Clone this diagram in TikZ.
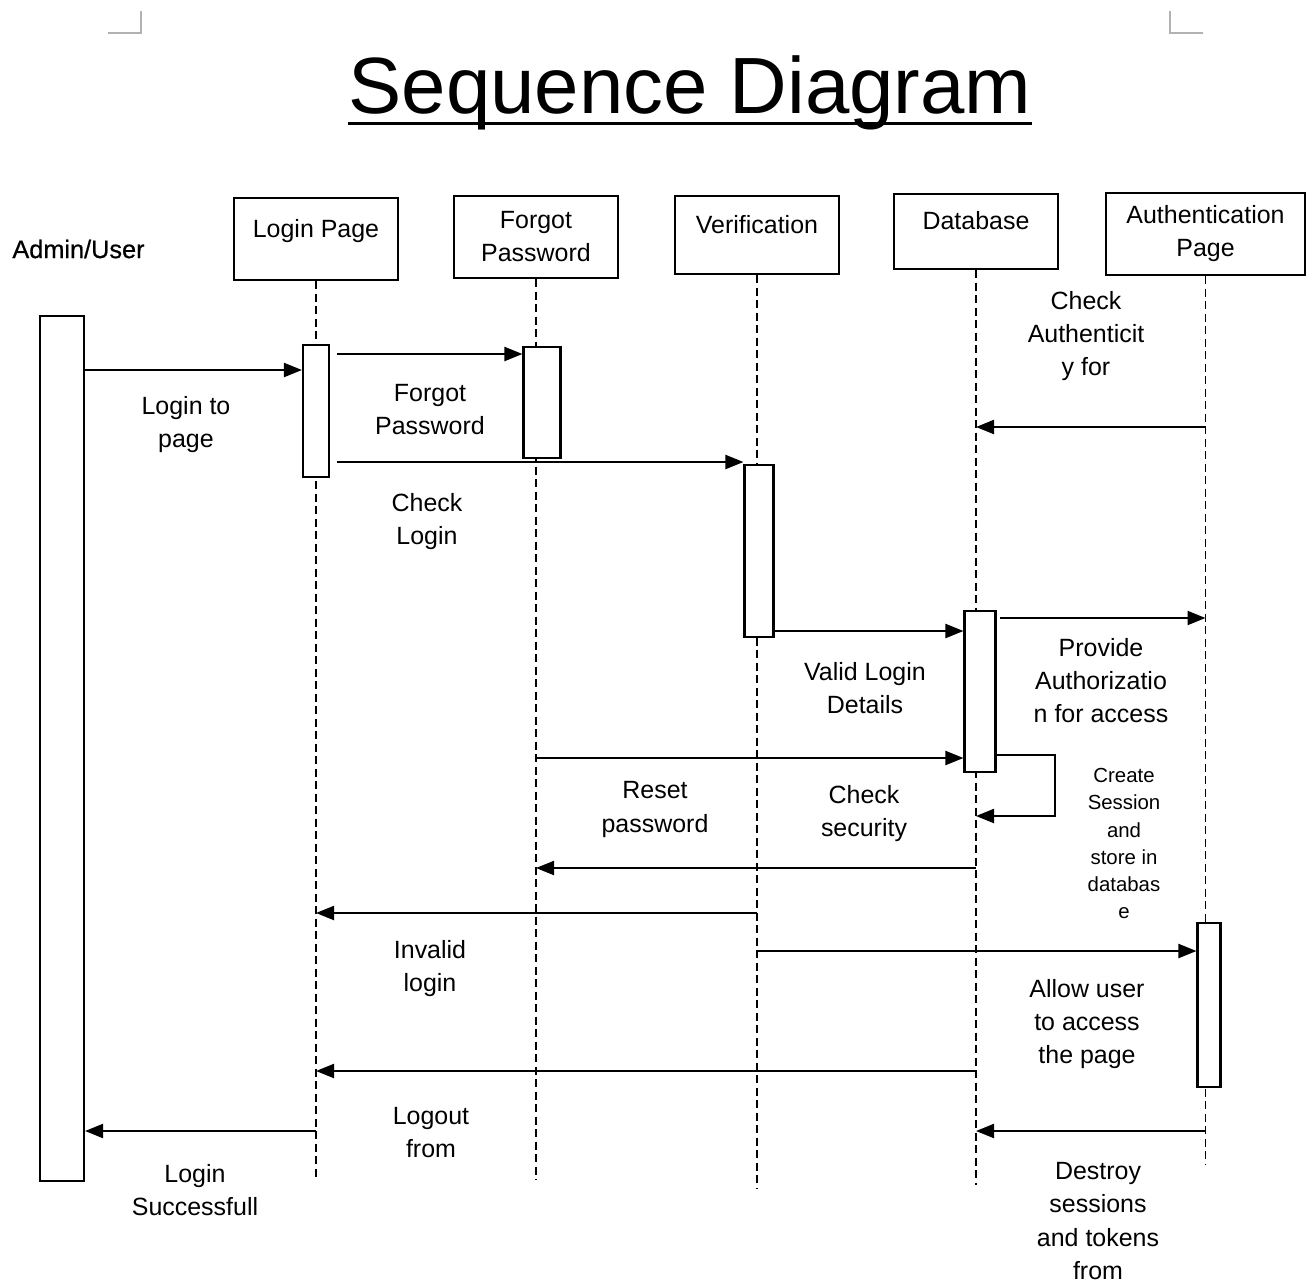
\documentclass[tikz,border=0pt]{standalone}
\usepackage{fontspec}
\setmainfont{Liberation Sans}
\newfontfamily\medfont[FakeBold=0.6]{Liberation Sans}
\usetikzlibrary{arrows.meta}

\tikzset{
  head/.style={draw, line width=0.6pt, inner sep=0pt, align=center,
               font=\fontsize{7.1}{9.4}\selectfont},
  oneline/.style={text depth=0.22cm},
  bar/.style={draw, line width=0.6pt, fill=white, inner sep=0pt, minimum width=#1},
  life/.style={dash pattern=on 0.08cm off 0.045cm, line width=0.45pt},
  msg/.style={line width=0.6pt, -{Triangle[length=0.18cm,width=0.14cm]}},
  lbl/.style={align=center, font=\fontsize{7.1}{9.4}\selectfont},
  small/.style={align=center, font=\fontsize{5.8}{7.7}\selectfont},
}

\begin{document}
\begin{tikzpicture}
  \useasboundingbox (0,0) rectangle (13.13,-12.84);
  \draw[gray!60, line width=0.4pt] (1.08,-0.33) -- (1.41,-0.33) -- (1.41,-0.11);
  \draw[gray!60, line width=0.4pt] (12.03,-0.33) -- (11.70,-0.33) -- (11.70,-0.11);

  \node[inner sep=0pt, font=\fontsize{22.7}{27}\selectfont] (title) at (6.90,-0.93) {Sequence Diagram};
  \draw[line width=0.03cm] ([yshift=0.07cm]title.south west) -- ([yshift=0.07cm]title.south east);

  \node[lbl, font=\medfont\fontsize{7.2}{9.4}\selectfont] (user) at (0.785,-2.49) {Admin/User};
  \node[head, oneline, minimum width=1.64cm, minimum height=0.82cm] (lp) at (3.16,-2.39) {Login Page};
  \node[head, minimum width=1.64cm, minimum height=0.82cm] (fp) at (5.36,-2.37) {Forgot\\Password};
  \node[head, oneline, minimum width=1.64cm, minimum height=0.78cm] (ve) at (7.57,-2.35) {Verification};
  \node[head, oneline, minimum width=1.64cm, minimum height=0.75cm] (db) at (9.76,-2.315) {Database};
  \node[head, minimum width=1.99cm, minimum height=0.82cm] (ap) at (12.055,-2.34) {Authentication\\Page};

  \foreach \n/\b in {lp/-11.78, fp/-11.80, ve/-11.88, db/-11.85, ap/-11.65}
    \draw[life] (\n.south) -- (\n.south |- 0,\b);

  \node[bar=0.44cm, minimum height=8.65cm] (ab) at (0.62,-7.485) {};
  \node[bar=0.26cm, minimum height=1.32cm] (lpb) at (3.16,-4.11) {};
  \node[bar=0.37cm, minimum height=1.11cm] (fpb) at (5.42,-4.025) {};
  \node[bar=0.29cm, minimum height=1.72cm] (veb) at (7.59,-5.51) {};
  \node[bar=0.31cm, minimum height=1.61cm] (dbb) at (9.80,-6.915) {};
  \node[bar=0.23cm, minimum height=1.64cm] (apb) at (12.09,-10.05) {};

  \draw[msg] (ab.east |- 0,-3.70) -- (lpb.west |- 0,-3.70);
  \draw[msg, shorten <=0.07cm] (lpb.east |- 0,-3.54) -- (fpb.west |- 0,-3.54);
  \draw[msg, shorten <=0.07cm] (lpb.east |- 0,-4.62) -- (veb.west |- 0,-4.62);
  \draw[msg] (veb.east |- 0,-6.31) -- (dbb.west |- 0,-6.31);
  \draw[msg, shorten <=0.03cm] (dbb.east |- 0,-6.18) -- (ap.south |- 0,-6.18);
  \draw[msg] (ap.south |- 0,-4.27) -- (db.south |- 0,-4.27);
  \draw[msg] (fp.south |- 0,-7.58) -- (dbb.west |- 0,-7.58);
  \coordinate (loop) at (10.55,-7.55);
  \draw[msg] (dbb.east |- loop) -- (loop) -- (loop |- 0,-8.16) -- (db.south |- 0,-8.16);
  \draw[msg] (db.south |- 0,-8.68) -- (fp.south |- 0,-8.68);
  \draw[msg] (ve.south |- 0,-9.13) -- (lp.south |- 0,-9.13);
  \draw[msg] (ve.south |- 0,-9.51) -- (apb.west |- 0,-9.51);
  \draw[msg] (db.south |- 0,-10.71) -- (lp.south |- 0,-10.71);
  \draw[msg] (lp.south |- 0,-11.31) -- (ab.east |- 0,-11.31);
  \draw[msg] (ap.south |- 0,-11.31) -- (db.south |- 0,-11.31);

  \node[lbl] (l1) at (1.86,-4.245) {Login to\\page};
  \node[lbl] (l2) at (4.30,-4.095) {Forgot\\Password};
  \node[lbl] (l3) at (4.27,-5.215) {Check\\Login};
  \node[lbl] (l4) at (8.65,-6.885) {Valid Login\\Details};
  \node[lbl] (l5) at (11.01,-6.805) {Provide\\Authorizatio\\n for access};
  \node[lbl] (l6) at (10.86,-3.36) {Check\\Authenticit\\y for};
  \node[lbl] (l7) at (6.55,-8.095) {Reset\\password};
  \node[lbl] (l8) at (8.64,-8.135) {Check\\security};
  \node[small] (l9) at (11.24,-8.435) {Create\\Session\\and\\store in\\databas\\e};
  \node[lbl] (l10) at (4.30,-9.685) {Invalid\\login};
  \node[lbl] (l11) at (10.87,-10.24) {Allow user\\to access\\the page};
  \node[lbl] (l12) at (4.31,-11.325) {Logout\\from};
  \node[lbl] (l13) at (1.95,-11.90) {Login\\Successfull};
  \node[lbl] (l14) at (10.98,-12.21) {Destroy\\sessions\\and tokens\\from};
\end{tikzpicture}
\end{document}
